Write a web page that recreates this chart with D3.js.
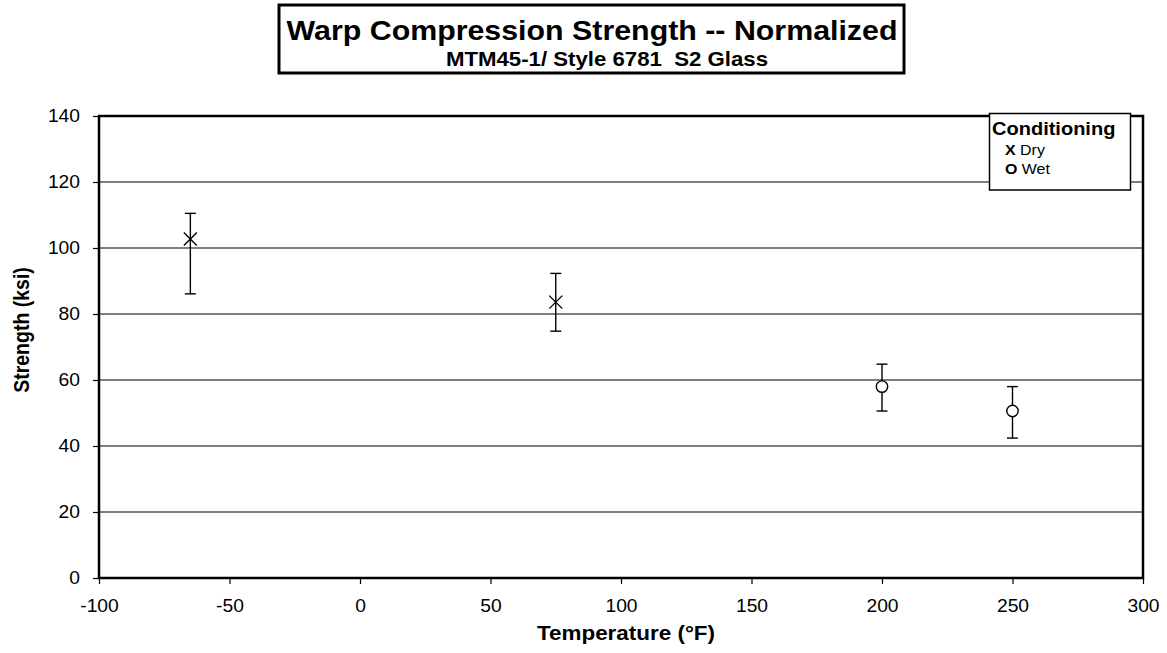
<!DOCTYPE html>
<html>
<head>
<meta charset="utf-8">
<script src="https://cdn.jsdelivr.net/npm/d3@7"></script>
<style>
  body { margin: 0; background: #fff; }
  text { font-family: "Liberation Sans", Arial, sans-serif; fill: #000; white-space: pre; }
</style>
</head>
<body>
<div id="chart"></div>
<script>
// data
var dryTemps = [-65, 75];
var dryMeans = [102.7, 83.6];
var dryMax = [110.5, 92.3];
var dryMin = [86.1, 74.8];

var wetTemps = [200, 250];
var wetMeans = [58.0, 50.6];
var wetMax = [64.8, 58.0];
var wetMin = [50.6, 42.4];

var xTicks = [-100, -50, 0, 50, 100, 150, 200, 250, 300];
var yTicks = [0, 20, 40, 60, 80, 100, 120, 140];

var W = 1167, H = 653;
var margin = {left: 99, right: 1143, top: 116, bottom: 578};
var SX = 1.1;  // the original text is a bit wider than it is tall

var svg = d3.select('#chart').append('svg')
    .attr('width', W)
    .attr('height', H);

var x = d3.scaleLinear().domain([-100, 300]).range([margin.left, margin.right]);
var y = d3.scaleLinear().domain([0, 140]).range([margin.bottom, margin.top]);

// places a text at (px, py), stretched a little sideways
function label(parent, px, py, str, size, bold, anchor) {
    return parent.append('text')
        .attr('transform', 'translate(' + px + ',' + py + ') scale(' + SX + ',1)')
        .attr('text-anchor', anchor || 'start')
        .style('font-size', size + 'px')
        .style('font-weight', bold ? 'bold' : 'normal')
        .text(str);
}

// title box
svg.append('rect')
   .attr('x', 279).attr('y', 5)
   .attr('width', 625).attr('height', 68)
   .style('fill', 'none').style('stroke', '#000').style('stroke-width', 3);

label(svg, 592, 40, 'Warp Compression Strength -- Normalized', 27.6, true, 'middle');
label(svg, 607, 66, 'MTM45-1/ Style 6781  S2 Glass', 20.2, true, 'middle');

// gridlines
svg.append('g').selectAll('line')
   .data(yTicks.filter(function(d) { return d > 0 && d < 140; }))
   .enter().append('line')
   .attr('x1', margin.left).attr('x2', margin.right)
   .attr('y1', function(d) { return y(d); })
   .attr('y2', function(d) { return y(d); })
   .style('stroke', '#000').style('stroke-width', 1.2);

// axes
var yAxis = svg.append('g')
   .attr('transform', 'translate(' + margin.left + ',0)')
   .call(d3.axisLeft(y).tickValues(yTicks).tickSize(6).tickPadding(9));
var xAxis = svg.append('g')
   .attr('transform', 'translate(0,' + margin.bottom + ')')
   .call(d3.axisBottom(x).tickValues(xTicks).tickSize(6).tickPadding(16).tickFormat(d3.format('d')));

[xAxis, yAxis].forEach(function(a) {
    a.select('.domain').remove();
    a.attr('font-size', null).attr('font-family', null);
    a.selectAll('line').style('stroke', '#000').style('stroke-width', 1.2);
    a.selectAll('text').style('font-size', '17.5px').style('fill', '#000');
});
xAxis.selectAll('text')
     .text(function(d) { return d < 0 ? '-' + Math.abs(d) : d; })
     .attr('transform', 'scale(' + SX + ',1)');
yAxis.selectAll('text')
     .attr('x', null)
     .attr('transform', 'translate(-19,0) scale(' + SX + ',1)');

// plot frame
svg.append('rect')
   .attr('x', margin.left).attr('y', margin.top)
   .attr('width', margin.right - margin.left)
   .attr('height', margin.bottom - margin.top)
   .style('fill', 'none').style('stroke', '#000').style('stroke-width', 2.5);

// axis titles
svg.append('text')
   .attr('transform', 'translate(29,330) rotate(-90) scale(1,' + SX + ')')
   .attr('text-anchor', 'middle')
   .style('font-size', '19.5px').style('font-weight', 'bold')
   .text('Strength (ksi)');

label(svg, 626, 640, 'Temperature (°F)', 20.4, true, 'middle');

// error bars
function errorBars(temps, lo, hi) {
    var g = svg.append('g');
    temps.forEach(function(t, i) {
        g.append('line')
         .attr('x1', x(t)).attr('x2', x(t))
         .attr('y1', y(lo[i])).attr('y2', y(hi[i]))
         .style('stroke', '#000').style('stroke-width', 1.4);
        [lo[i], hi[i]].forEach(function(v) {
            g.append('line')
             .attr('x1', x(t) - 5.5).attr('x2', x(t) + 5.5)
             .attr('y1', y(v)).attr('y2', y(v))
             .style('stroke', '#000').style('stroke-width', 1.4);
        });
    });
}
errorBars(dryTemps, dryMin, dryMax);
errorBars(wetTemps, wetMin, wetMax);

// dry markers (x)
var s = 6.5;
dryTemps.forEach(function(t, i) {
    var cx = x(t), cy = y(dryMeans[i]);
    svg.append('path')
       .attr('d', 'M' + (cx - s) + ',' + (cy - s) + 'L' + (cx + s) + ',' + (cy + s) +
                  'M' + (cx - s) + ',' + (cy + s) + 'L' + (cx + s) + ',' + (cy - s))
       .style('stroke', '#000').style('stroke-width', 1.4).style('fill', 'none');
});

// wet markers (o)
svg.append('g').selectAll('circle')
   .data(wetTemps)
   .enter().append('circle')
   .attr('cx', function(d) { return x(d); })
   .attr('cy', function(d, i) { return y(wetMeans[i]); })
   .attr('r', 5.7)
   .style('fill', '#fff').style('stroke', '#000').style('stroke-width', 1.4);

// legend
var leg = svg.append('g');
leg.append('rect')
   .attr('x', 989.5).attr('y', 113.5)
   .attr('width', 141).attr('height', 76.5)
   .style('fill', '#fff').style('stroke', '#000').style('stroke-width', 1.5);
label(leg, 992, 135, 'Conditioning', 18.2, true);
var legItems = [['X', 'Dry'], ['O', 'Wet']];
legItems.forEach(function(it, i) {
    var t = label(leg, 1005, 155 + i * 18.5, '', 14.5, false);
    t.append('tspan').style('font-weight', 'bold').text(it[0]);
    t.append('tspan').text(' ' + it[1]);
});
</script>
</body>
</html>
